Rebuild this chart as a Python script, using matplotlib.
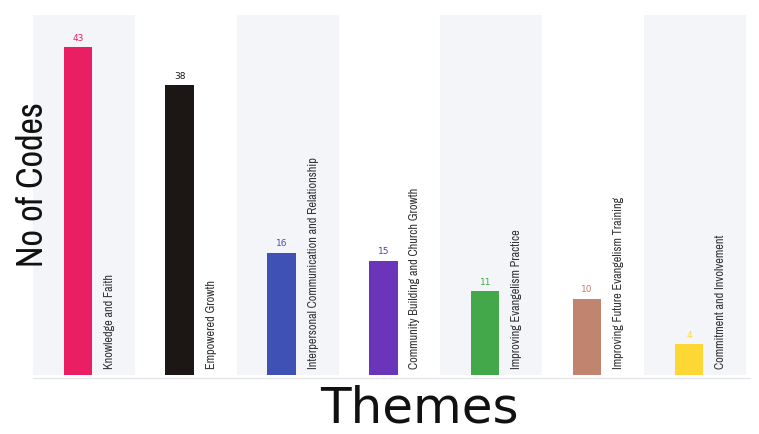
import matplotlib.pyplot as plt
import numpy as np

themes = [
    "Knowledge and Faith",
    "Empowered Growth",
    "Interpersonal Communication and Relationship",
    "Community Building and Church Growth",
    "Improving Evangelism Practice",
    "Improving Future Evangelism Training",
    "Commitment and Involvement",
]
codes = [43, 38, 16, 15, 11, 10, 4]
colors = ["#e91e63", "#1c1715", "#3f51b5", "#6a35b8", "#43a84a", "#c0846f", "#fdd835"]

narrow = ["Archivo Narrow", "DejaVu Sans"]

fig = plt.figure(figsize=(7.59, 4.34), dpi=100)
ax = fig.add_axes([0.0435, 0.136, 0.9447, 0.829])

x = np.arange(len(themes))

# alternating background bands
for i in x:
    face = "#f4f5f9" if i % 2 == 0 else "#ffffff"
    ax.axvspan(i - 0.44, i + 0.56, color=face, zorder=0, lw=0)

ax.bar(x, codes, width=0.28, color=colors, zorder=3)

for i, (v, c, name) in enumerate(zip(codes, colors, themes)):
    ax.text(i, v + 0.6, str(v), ha="center", va="bottom", fontsize=6.5,
            color=c, zorder=4)
    ax.text(i + 0.31, 0.8, name, rotation=90, ha="center", va="bottom",
            fontsize=8.8, color="#333333", family=narrow, zorder=4)

ax.set_xlim(-0.44, 6.6)
ax.set_ylim(0, 47.2)
ax.set_xticks([])
ax.set_yticks([])
for s in ax.spines.values():
    s.set_visible(False)
ax.axhline(-0.4, color="#e6e6ea", lw=1, clip_on=False)

fig.text(0.043, 0.574, "No of Codes", rotation=90, ha="center", va="center",
         fontsize=26, family=narrow, color="#111111")
fig.text(0.553, 0.058, "Themes", ha="center", va="center", fontsize=36,
         color="#111111")

fig.savefig("out.png", dpi=100)
